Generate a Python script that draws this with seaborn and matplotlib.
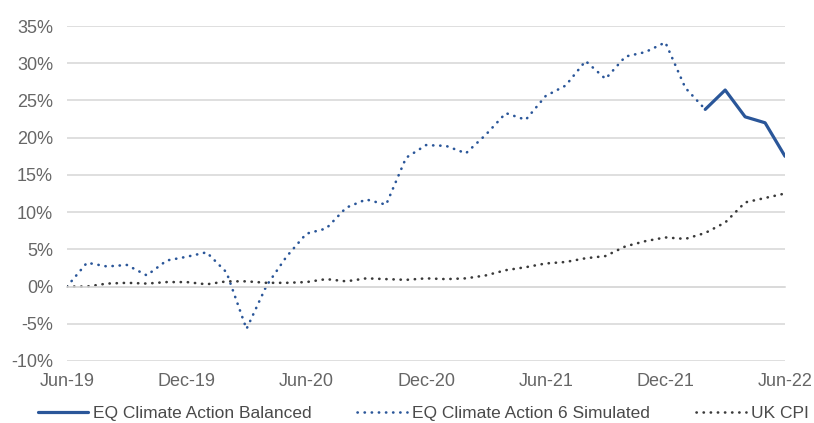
import matplotlib
matplotlib.use("Agg")
import matplotlib.pyplot as plt
import seaborn as sns
import pandas as pd
import numpy as np

months = pd.date_range("2019-06-01", "2022-06-01", freq="MS")
tick_labels = ["Jun-19", "", "Dec-19", "", "Jun-20", "", "Dec-20", "", "Jun-21", "", "Dec-21", "", "Jun-22"]

simulated = [0.0, 3.2, 2.7, 2.9, 1.5, 3.5, 4.0, 4.6, 1.9, -5.7, 0.1, 4.0, 7.1, 7.8, 10.6,
             11.7, 11.0, 17.3, 19.0, 18.9, 17.9, 20.4, 23.3, 22.4, 25.6, 27.0, 30.3, 27.9, 30.9,
             31.5, 32.8, 26.7, 23.8]
balanced = [23.8, 26.4, 22.8, 22.0, 17.5]
uk_cpi = [0.0, 0.0, 0.4, 0.5, 0.4, 0.6, 0.6, 0.3, 0.7, 0.7, 0.5, 0.5, 0.6, 1.0, 0.7, 1.1, 1.0,
          0.9, 1.1, 1.0, 1.1, 1.5, 2.2, 2.6, 3.1, 3.3, 3.8, 4.1, 5.4, 6.1, 6.6, 6.4, 7.2, 8.6,
          11.3, 11.9, 12.5]

names = ["EQ Climate Action Balanced", "EQ Climate Action 6 Simulated", "UK CPI"]

sns.set_style("white")
plt.rcParams["font.family"] = ["Liberation Sans", "DejaVu Sans"]

x_all = np.arange(len(months))
df_sim = pd.DataFrame({"m": x_all[:len(simulated)], "v": simulated})
df_bal = pd.DataFrame({"m": x_all[len(simulated) - 1:len(simulated) - 1 + len(balanced)], "v": balanced})
df_cpi = pd.DataFrame({"m": x_all[:len(uk_cpi)], "v": uk_cpi})

fig = plt.figure(figsize=(8.14, 4.23), dpi=100)
ax = fig.add_axes([0.0823, 0.1466, 0.8821, 0.7919])

blue = "#2A5699"
dark = "#3A3A3A"
dots = (0, (0.1, 2.6))

sns.lineplot(data=df_bal, x="m", y="v", ax=ax, color=blue, lw=2.3, label=names[0])
sns.lineplot(data=df_sim, x="m", y="v", ax=ax, color=blue, lw=1.9, label=names[1],
             linestyle=dots, dash_capstyle="round")
sns.lineplot(data=df_cpi, x="m", y="v", ax=ax, color=dark, lw=1.9, label=names[2],
             linestyle=dots, dash_capstyle="round")

ax.set_xlim(0, 36)
ax.set_ylim(-10, 35)
ax.set_yticks(np.arange(-10, 36, 5))
ax.set_yticklabels([f"{v}%" for v in range(-10, 36, 5)])
ax.yaxis.grid(True, color="#D9D9D9", lw=1.2)
ax.set_axisbelow(True)
for s in ["top", "right", "left"]:
    ax.spines[s].set_visible(False)
ax.spines["bottom"].set_position(("data", 0))
ax.spines["bottom"].set_color("#D9D9D9")
ax.spines["bottom"].set_linewidth(1.2)
ax.set_xticks(np.arange(0, 37, 3))
ax.set_xticklabels(tick_labels)
ax.tick_params(axis="x", direction="out", length=5, width=1.2, color="#D9D9D9",
               pad=57, labelsize=13, labelcolor="#666666")
ax.tick_params(axis="y", length=0, pad=10, labelsize=13, labelcolor="#666666")
ax.set_xlabel("")
ax.set_ylabel("")

handles, labels = ax.get_legend_handles_labels()
ax.legend_.remove()
fig.legend(handles, labels, loc="center", bbox_to_anchor=(0.52, 0.022), ncol=3,
           frameon=False, fontsize=12.5, handlelength=2.9, columnspacing=2.6,
           handletextpad=0.3, labelcolor="#4A4A4A")

fig.savefig("out.png", dpi=100)
